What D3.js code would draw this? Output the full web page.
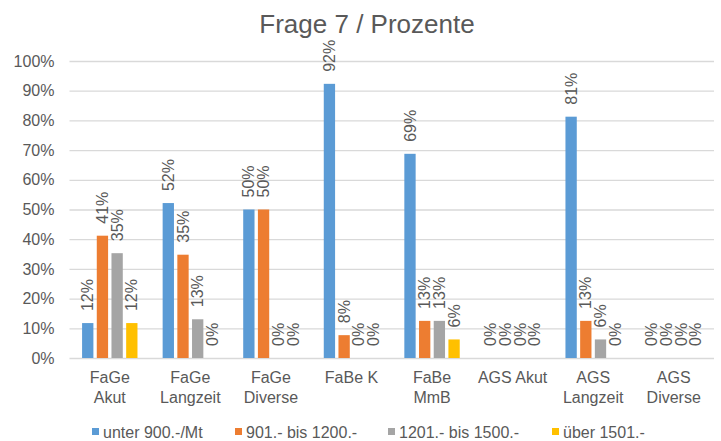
<!DOCTYPE html>
<html><head><meta charset="utf-8">
<script src="https://cdn.jsdelivr.net/npm/d3@7"></script>
<style>
html,body{margin:0;padding:0;background:#fff;}
svg{display:block;font-family:"Liberation Sans",Arial,sans-serif;}
</style></head>
<body>
<svg id="chart" width="721" height="441"></svg>
<script>
const categories = [["FaGe","Akut"],["FaGe","Langzeit"],["FaGe","Diverse"],["FaBe K"],["FaBe","MmB"],["AGS Akut"],["AGS","Langzeit"],["AGS","Diverse"]];
const seriesNames = ["unter 900.-/Mt","901.- bis 1200.-","1201.- bis 1500.-","über 1501.-"];
const seriesColors = ["#5B9BD5","#ED7D31","#A5A5A5","#FFC000"];
const s1 = [0.1176, 0.5217, 0.50, 0.9231, 0.6875, 0, 0.8125, 0];
const s2 = [0.4118, 0.3478, 0.50, 0.0769, 0.125, 0, 0.125, 0];
const s3 = [0.3529, 0.1304, 0, 0, 0.125, 0, 0.0625, 0];
const s4 = [0.1176, 0, 0, 0, 0.0625, 0, 0, 0];
const yTicks = [0,0.1,0.2,0.3,0.4,0.5,0.6,0.7,0.8,0.9,1.0];
const title = "Frage 7 / Prozente";

const series = [s1,s2,s3,s4];
const svg = d3.select("#chart");
const textColor = "#595959";
const fs = 16;

const x0 = d3.scaleBand().domain(d3.range(categories.length)).range([69.5, 714]).padding(0);
const x1 = d3.scaleBand().domain(d3.range(series.length)).range([-27.7, 27.7]).paddingInner(0.23).paddingOuter(0);
const y = d3.scaleLinear().domain([0,1]).range([358, 61]);

// title
svg.append("text").attr("x", 367).attr("y", 33).attr("text-anchor","middle")
  .attr("font-size", 26).attr("fill", textColor).text(title);

// gridlines + y axis
const yAxis = d3.axisLeft(y).tickValues(yTicks).tickFormat(d3.format(".0%")).tickSize(-(714-69.5)).tickPadding(15);
const gy = svg.append("g").attr("transform","translate(69.5,0)").call(yAxis);
gy.select(".domain").remove();
gy.selectAll(".tick line").attr("stroke","#D9D9D9").attr("stroke-width",1.3);
gy.selectAll(".tick text").attr("font-size", fs).attr("fill", textColor).attr("font-family","Liberation Sans, Arial, sans-serif");

// bars
const groups = svg.append("g").selectAll("g").data(categories).join("g")
  .attr("transform", (d,i) => `translate(${x0(i) + x0.bandwidth()/2},0)`);

groups.each(function(cat, ci){
  const g = d3.select(this);
  series.forEach((s, si) => {
    const v = s[ci];
    const bx = x1(si);
    if (v > 0) {
      g.append("rect").attr("x", bx).attr("width", x1.bandwidth())
        .attr("y", y(v)).attr("height", y(0) - y(v)).attr("fill", seriesColors[si]);
    }
    const lx = bx + x1.bandwidth()/2;
    const ly = y(v) - 12;
    g.append("text").attr("transform", `translate(${lx},${ly}) rotate(-90)`)
      .attr("dy","0.35em").attr("text-anchor","start")
      .attr("font-size", fs).attr("fill", textColor)
      .text(d3.format(".0%")(v));
  });
  // category labels
  const t = g.append("text").attr("text-anchor","middle").attr("font-size", fs).attr("fill", textColor);
  cat.forEach((line, li) => {
    t.append("tspan").attr("x", 0).attr("y", 383 + li*20).text(line);
  });
});

// legend
const legendX = [92, 235, 388, 552];
const lg = svg.append("g");
seriesNames.forEach((name, i) => {
  lg.append("rect").attr("x", legendX[i]).attr("y", 428).attr("width", 7).attr("height", 7).attr("fill", seriesColors[i]);
  lg.append("text").attr("x", legendX[i] + 11).attr("y", 437.5).attr("font-size", fs).attr("fill", textColor).text(name);
});
</script>
</body></html>
